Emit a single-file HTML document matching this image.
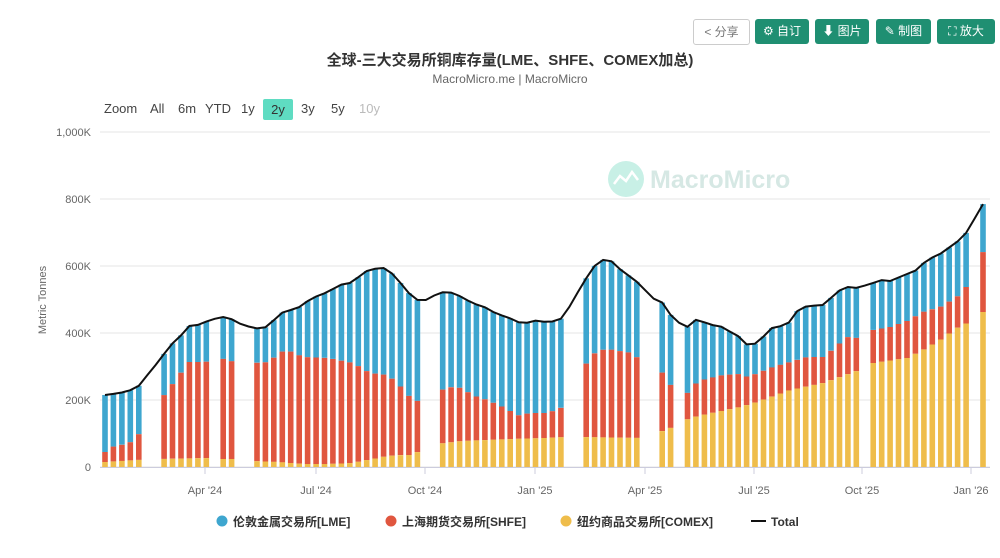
<!DOCTYPE html>
<html><head><meta charset="utf-8"><style>
body{margin:0;width:1000px;height:558px;background:#fff;font-family:"Liberation Sans","Noto Sans CJK SC",sans-serif;overflow:hidden;position:relative}
.btn{position:absolute;top:19px;height:25px;border-radius:3px;background:#1f8f72;color:#fff;font-size:12px;line-height:25px;text-align:center}
.abs{position:absolute;white-space:nowrap}
</style></head><body>
<div class="btn" style="left:693px;width:55px;background:#fff;border:1px solid #ccc;color:#777;height:24px;line-height:24px">&lt; 分享</div>
<div class="btn" style="left:755px;width:54px">⚙ 自订</div>
<div class="btn" style="left:815px;width:54px">⬇ 图片</div>
<div class="btn" style="left:876px;width:55px">✎ 制图</div>
<div class="btn" style="left:937px;width:58px">⛶ 放大</div>
<div class="abs" style="left:0;width:1020px;text-align:center;top:49px;font-size:15px;font-weight:bold;color:#333">全球-三大交易所铜库存量(LME、SHFE、COMEX加总)</div>
<div class="abs" style="left:0;width:1020px;text-align:center;top:72px;font-size:12px;color:#666">MacroMicro.me | MacroMicro</div>
<div class="abs" style="top:101px;left:104px;font-size:13px;color:#444">Zoom</div>
<div class="abs" style="top:101px;left:150px;font-size:13px;color:#444">All</div>
<div class="abs" style="top:101px;left:178px;font-size:13px;color:#444">6m</div>
<div class="abs" style="top:101px;left:205px;font-size:13px;color:#444">YTD</div>
<div class="abs" style="top:101px;left:241px;font-size:13px;color:#444">1y</div>
<div class="abs" style="top:99px;left:263px;width:30px;height:21px;background:#5fdcc2;border-radius:2px;font-size:13px;color:#333;text-align:center;line-height:21px">2y</div>
<div class="abs" style="top:101px;left:301px;font-size:13px;color:#444">3y</div>
<div class="abs" style="top:101px;left:331px;font-size:13px;color:#444">5y</div>
<div class="abs" style="top:101px;left:359px;font-size:13px;color:#bbb">10y</div>
<svg id="s" width="1000" height="558" style="position:absolute;left:0;top:0" xmlns="http://www.w3.org/2000/svg"></svg>
<script>
var ns="http://www.w3.org/2000/svg",s=document.getElementById('s'),h='';
// grid
[0,200,400,600,800,1000].forEach(function(v,i){var y=467-i*67;h+='<line x1="100" x2="990" y1="'+y+'" y2="'+y+'" stroke="#e6e6e6"/>';
h+='<text x="91" y="'+(y+4)+'" font-size="11" fill="#666" text-anchor="end" font-family="Liberation Sans">'+(v==0?'0':(v==1000?'1,000K':v+'K'))+'</text>';});
h+='<text transform="translate(46,300) rotate(-90)" font-size="11" fill="#666" text-anchor="middle" font-family="Liberation Sans">Metric Tonnes</text>';
// watermark
h+='<circle cx="626" cy="179" r="18" fill="#c8f0e6"/><path d="M614 184 l6-8 6 5 6-9 6 8" stroke="#fff" stroke-width="2.5" fill="none"/>';
h+='<text x="650" y="188" font-size="25" font-weight="bold" fill="#d6e8e4" font-family="Liberation Sans">MacroMicro</text>';
var T=[[105,395],[120,393],[128,391],[137,388],[162,357],[170,345],[178,340],[187,326],[195,326],[205,322],[220,317],[228,317],[238,323],[253,328],[262,329],[270,325],[278,315],[287,310],[295,310],[312,298],[328,292],[338,286],[345,283],[353,283],[363,272],[378,268],[387,268],[398,280],[413,298],[422,302],[437,294],[447,291],[462,297],[472,303],[487,308],[495,313],[512,319],[522,324],[538,320],[548,323],[563,318],[583,283],[598,261],[607,259],[615,263],[623,273],[632,277],[657,302],[665,303],[673,320],[688,327],[698,318],[707,324],[723,327],[732,333],[740,337],[748,346],[757,343],[773,327],[782,326],[790,322],[798,310],[807,306],[823,305],[840,290],[848,287],[857,288],[873,283],[882,280],[890,281],[907,274],[915,271],[927,260],[940,254],[957,242],[967,232],[983,204]];
var R=[[105,452],[112,447],[120,445],[128,444],[137,437],[162,398],[170,387],[178,378],[187,362],[205,362],[220,358],[238,363],[253,363],[270,362],[278,353],[287,350],[303,357],[328,358],[353,363],[370,373],[387,375],[398,383],[405,393],[413,399],[422,403],[437,393],[447,387],[462,388],[472,395],[487,400],[503,407],[512,412],[522,417],[528,413],[548,413],[563,407],[580,376],[588,360],[597,351],[607,349],[632,353],[640,360],[657,372],[665,373],[673,390],[688,393],[698,381],[723,375],[740,374],[748,377],[773,367],[807,357],[823,357],[832,350],[840,343],[848,337],[857,338],[873,330],[890,327],[907,321],[923,312],[940,307],[957,297],[967,286],[983,252]];
var Y=[[105,462],[137,460],[162,459],[205,458],[220,459],[238,459],[253,461],[278,462],[303,464],[328,464],[353,463],[362,461],[378,458],[387,456],[403,455],[413,455],[422,449],[437,444],[462,441],[512,439],[545,438],[565,437],[580,437],[640,438],[657,433],[665,430],[673,427],[688,419],[698,416],[740,407],[757,402],[790,390],[823,383],[840,377],[857,371],[873,363],[907,358],[923,350],[940,340],[957,328],[967,323],[983,312]];
function f(P,x){for(var i=1;i<P.length;i++){if(x<=P[i][0]){var a=P[i-1],b=P[i];return a[1]+(b[1]-a[1])*(x-a[0])/(b[0]-a[0]);}}return P[P.length-1][1];}
var gaps=[[140,159],[207,218],[240,251],[424,435],[566,578],[642,654],[675,686],[859,871],[970,980]];
var pts=[];
for(var i=0;i<=104;i++){var x=105+i*8.442;var t=f(T,x),r=f(R,x),y=f(Y,x);pts.push(x.toFixed(1)+','+t.toFixed(1));
var g=false;gaps.forEach(function(q){if(x>q[0]&&x<q[1])g=true;});if(g)continue;var bx=(x-2.8).toFixed(1);
h+='<rect x="'+bx+'" y="'+t.toFixed(1)+'" width="5.6" height="'+(r-t).toFixed(1)+'" fill="#3ea6cf"/>';
h+='<rect x="'+bx+'" y="'+r.toFixed(1)+'" width="5.6" height="'+(y-r).toFixed(1)+'" fill="#e0563f"/>';
h+='<rect x="'+bx+'" y="'+y.toFixed(1)+'" width="5.6" height="'+(467-y).toFixed(1)+'" fill="#efbd4b"/>';}
h+='<polyline points="'+pts.join(' ')+'" fill="none" stroke="#111" stroke-width="2"/>';
h+='<line x1="100" x2="990" y1="467.5" y2="467.5" stroke="#ccd"/>';
[["Apr '24",205],["Jul '24",316],["Oct '24",425],["Jan '25",535],["Apr '25",645],["Jul '25",754],["Oct '25",862],["Jan '26",971]].forEach(function(l){
h+='<line x1="'+l[1]+'" x2="'+l[1]+'" y1="467" y2="474" stroke="#ccd"/><text x="'+l[1]+'" y="494" font-size="11" fill="#666" text-anchor="middle" font-family="Liberation Sans">'+l[0]+'</text>';});
var lf='font-family="Liberation Sans,Noto Sans CJK SC,sans-serif" font-size="12" font-weight="bold" fill="#333"';
h+='<circle cx="222" cy="521" r="5.5" fill="#3ea6cf"/><text x="233" y="526" '+lf+'>伦敦金属交易所[LME]</text>';
h+='<circle cx="391" cy="521" r="5.5" fill="#e0563f"/><text x="402" y="526" '+lf+'>上海期货交易所[SHFE]</text>';
h+='<circle cx="566" cy="521" r="5.5" fill="#efbd4b"/><text x="577" y="526" '+lf+'>纽约商品交易所[COMEX]</text>';
h+='<line x1="751" x2="766" y1="521" y2="521" stroke="#111" stroke-width="2"/><text x="771" y="526" '+lf+'>Total</text>';
s.innerHTML=h;
</script>
</body></html>
